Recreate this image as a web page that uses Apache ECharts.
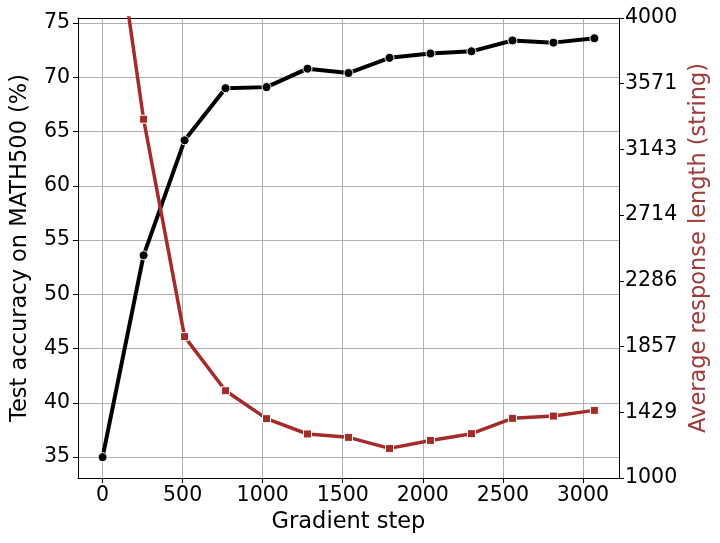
<!DOCTYPE html>
<html>
<head>
<meta charset="utf-8">
<script src="https://cdn.jsdelivr.net/npm/echarts@6/dist/echarts.min.js"></script>
<style>
html,body{margin:0;padding:0;background:#fff;}
#c{width:720px;height:543px;}
</style>
</head>
<body>
<div id="c"></div>
<script>
// Data
var steps = [0, 256, 512, 768, 1024, 1280, 1536, 1792, 2048, 2304, 2560, 2816, 3072];
var accuracy = [35.0, 53.6, 64.2, 69.0, 69.1, 70.8, 70.4, 71.8, 72.2, 72.4, 73.4, 73.2, 73.6];
var respLength = [5200, 3340, 1922, 1569, 1387, 1287, 1265, 1193, 1245, 1289, 1389, 1404, 1441];

var xName = 'Gradient step';
var leftName = 'Test accuracy on MATH500 (%)';
var rightName = 'Average response length (string)';

var font = 'DejaVu Sans';
var tickFont = 20.5;
var titleFont = 22.5;

function pairs(xs, ys) { return xs.map(function (x, i) { return [x, ys[i]]; }); }
function plain(v) { return String(Math.round(v)); }

var xMin = -153.6, xMax = 3225.6;

var chart = echarts.init(document.getElementById('c'), null, {renderer: 'canvas'});
chart.setOption({
  animation: false,
  backgroundColor: '#ffffff',
  grid: {left: 78, top: 18, right: 101, bottom: 65, show: false},
  xAxis: [{
    type: 'value', min: xMin, max: xMax, splitNumber: 5, position: 'bottom',
    name: xName, nameLocation: 'middle', nameGap: 31,
    nameTextStyle: {fontFamily: font, fontSize: titleFont, color: '#000'},
    axisLine: {show: true, onZero: false, lineStyle: {color: '#000', width: 1}},
    axisTick: {show: true, inside: false, length: 5, lineStyle: {color: '#000'}},
    axisLabel: {fontFamily: font, fontSize: tickFont, color: '#000', margin: 7, showMinLabel: false, showMaxLabel: false, formatter: plain},
    splitLine: {show: true, lineStyle: {color: '#b0b0b0', width: 1}}
  }, {
    type: 'value', min: xMin, max: xMax, position: 'top',
    axisLine: {show: true, onZero: false, lineStyle: {color: '#000', width: 1}},
    axisTick: {show: false}, axisLabel: {show: false}, splitLine: {show: false}
  }],
  yAxis: [{
    type: 'value', min: 33.08, max: 75.47, splitNumber: 8, position: 'left',
    name: leftName, nameLocation: 'middle', nameGap: 46,
    nameTextStyle: {fontFamily: font, fontSize: titleFont, color: '#000'},
    axisLine: {show: true, onZero: false, lineStyle: {color: '#000', width: 1}},
    axisTick: {show: true, inside: false, length: 5, lineStyle: {color: '#000'}},
    axisLabel: {fontFamily: font, fontSize: tickFont, color: '#000', margin: 8, showMinLabel: false, showMaxLabel: false, formatter: plain},
    splitLine: {show: true, lineStyle: {color: '#b0b0b0', width: 1}}
  }, {
    type: 'value', min: 1000, max: 4000, interval: 3000 / 7, position: 'right',
    name: rightName, nameLocation: 'middle', nameGap: 68,
    nameTextStyle: {fontFamily: font, fontSize: titleFont, color: '#a0393a'},
    axisLine: {show: true, onZero: false, lineStyle: {color: '#000', width: 1}},
    axisTick: {show: true, inside: false, length: 5, lineStyle: {color: '#000'}},
    axisLabel: {fontFamily: font, fontSize: tickFont, color: '#000', margin: 6, formatter: plain},
    splitLine: {show: false}
  }],
  series: [{
    type: 'line', name: 'accuracy', xAxisIndex: 0, yAxisIndex: 0, z: 3,
    data: pairs(steps, accuracy),
    lineStyle: {color: '#000', width: 4},
    symbol: 'circle', symbolSize: 9,
    itemStyle: {color: '#000', borderColor: '#fff', borderWidth: 1},
    clip: true
  }, {
    type: 'line', name: 'length', xAxisIndex: 0, yAxisIndex: 1, z: 4,
    data: pairs(steps, respLength),
    lineStyle: {color: '#a52a2a', width: 3.5},
    symbol: 'rect', symbolSize: 8,
    itemStyle: {color: '#a52a2a', borderColor: '#fff', borderWidth: 1},
    clip: true
  }]
});
</script>
</body>
</html>
